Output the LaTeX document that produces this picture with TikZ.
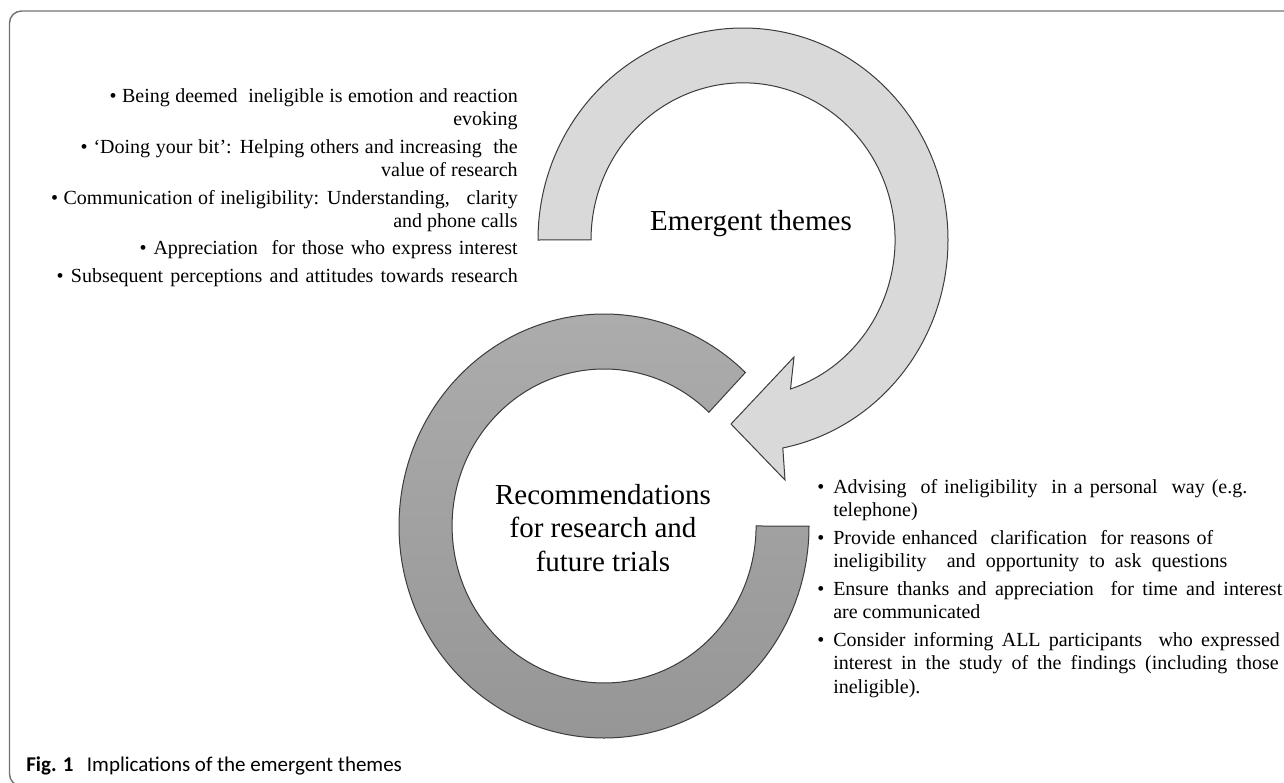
\documentclass[tikz,border=0pt]{standalone}
\usepackage{amsmath,amssymb}
\usepackage{tikz}
\usepackage{xcolor}
\usepackage{fontspec}
\setmainfont{Liberation Serif}
\newfontfamily\captionfont{Carlito}

\definecolor{ltgray}{RGB}{217,217,217}
\definecolor{ringtop}{RGB}{172,172,172}
\definecolor{ringbot}{RGB}{150,150,150}
\definecolor{edgegray}{RGB}{60,60,60}
\definecolor{framegray}{RGB}{115,115,115}

\newcommand{\blt}{\makebox[12pt][l]{\textbullet}}
\newcommand{\hang}{\makebox[12pt]{}}
\newcommand{\fillline}[2]{\makebox[#1][s]{#2}}

\begin{document}
\begin{tikzpicture}[x=0.75pt,y=0.75pt,yscale=-1,xscale=1,
  arrowshape/.style={draw=edgegray, fill=ltgray, line width=0.75pt},
  ringshape/.style={draw=edgegray, top color=ringtop, bottom color=ringbot, line width=0.75pt},
  themetext/.style={font=\fontsize{21.75}{25}\selectfont, inner sep=0pt},
  listtext/.style={font=\fontsize{15}{17.6}\selectfont, inner sep=0pt}]
\useasboundingbox (0,0) rectangle (1284,782);

%Shape: Frame
\draw [framegray, line width=1.1pt, rounded corners=9] (40,786) -- (9.5,786) -- (9.5,11) -- (1300,11) ;

%Shape: Block Arc [emergent themes arrow]
\draw [arrowshape] (538,240) arc [start angle=180, end angle=438.8, x radius=205, y radius=212] -- (785,480) -- (731,424) -- (794,357) -- (790.5,389) arc [start angle=431.8, end angle=180, x radius=152, y radius=157] -- cycle ;
%Shape: Block Arc [recommendations ring]
\draw [ringshape] (809,526) arc [start angle=0, end angle=313.6, x radius=205, y radius=212] -- (708.9,412.3) arc [start angle=313.6, end angle=0, x radius=152, y radius=157] -- cycle ;

% Text Node
\draw (751,230) node [anchor=base, themetext] (emerg) {Emergent themes};
% Text Node
\draw (603,528) node [themetext, align=center] (recom) {Recommendations\\for research and\\future trials};

% Text Node
\draw (518,88) node [anchor=north east, listtext, align=right] (themelist) {%
\fillline{306pt}{• Being deemed\ \ ineligible is emotion and reaction}\\evoking\\[3pt]%
\fillline{327.75pt}{• ‘Doing your bit’: Helping others and increasing\ \ the}\\value of research\\[3pt]%
\fillline{350pt}{• Communication of ineligibility: Understanding,\ \ \ clarity}\\and phone calls\\[3pt]%
\fillline{283.5pt}{• Appreciation\ \ for those who express interest}\\[3pt]%
\fillline{345.75pt}{• Subsequent perceptions and attitudes towards research}};

% Text Node
\draw (817,479) node [anchor=north west, listtext, align=left] (reclist) {%
\blt\fillline{310.5pt}{Advising\ \ of ineligibility\ \ in a personal\ \ way (e.g.}\\\hang telephone)\\[3pt]%
\blt\fillline{285pt}{Provide enhanced\ \ clarification\ \ for reasons of}\\\hang\fillline{295.5pt}{ineligibility\ \ and opportunity to ask questions}\\[3pt]%
\blt\fillline{336.75pt}{Ensure thanks and appreciation\ \ for time and interest}\\\hang are communicated\\[3pt]%
\blt\fillline{335pt}{Consider informing ALL participants\ \ who expressed}\\\hang\fillline{334pt}{interest in the study of the findings (including those}\\\hang ineligible).};

% Text Node
\draw (26,771) node [anchor=base west, inner sep=0pt, font=\captionfont\fontsize{15.75}{18}\selectfont] (fig) {\textbf{Fig. 1}\hspace{10pt}Implications of the emergent themes};

\end{tikzpicture}
\end{document}
